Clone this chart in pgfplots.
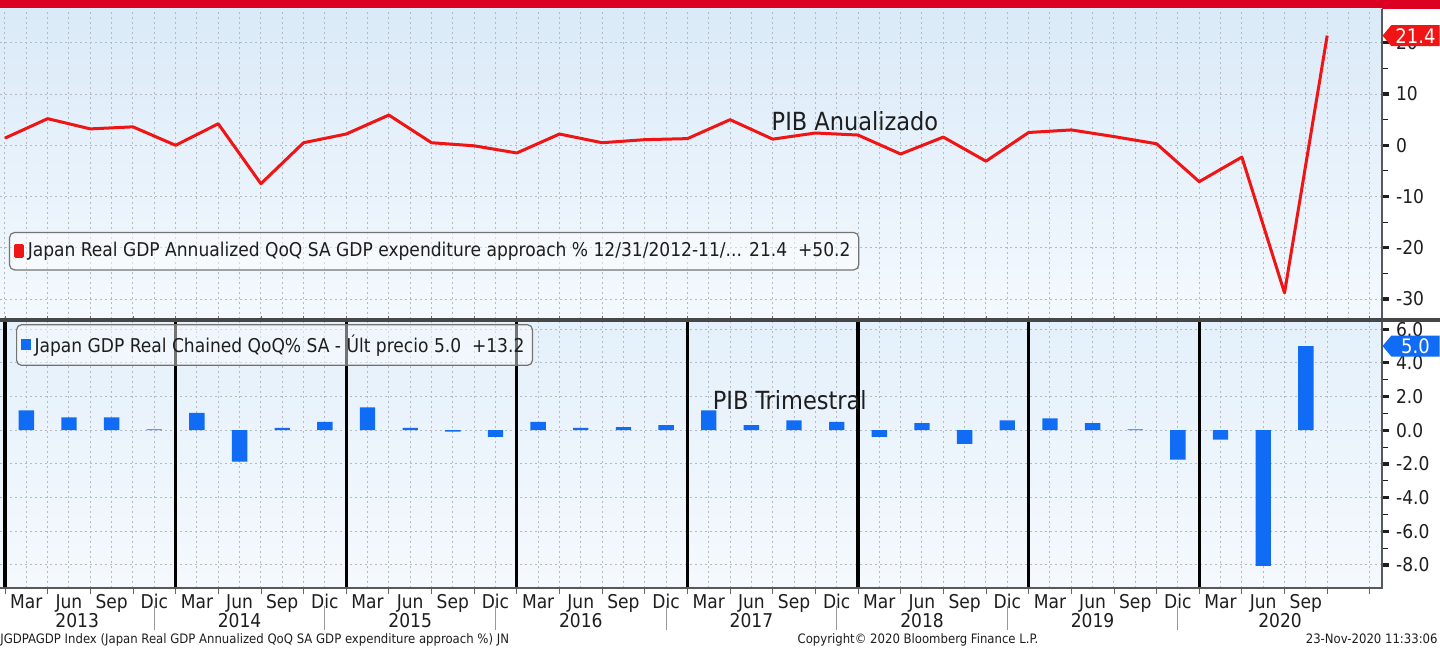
\documentclass[border=0pt]{standalone}
\usepackage{pgfplots}
\pgfplotsset{compat=1.18}
\usepackage{pgfplotstable}
\usepackage{fontspec}
\setmainfont{DejaVu Sans Condensed}
\usetikzlibrary{shapes.symbols}

\definecolor{bbred}{RGB}{240,20,20}
\definecolor{topred}{RGB}{220,0,35}
\definecolor{bbblue}{RGB}{16,108,245}
\definecolor{gridgray}{RGB}{180,186,194}
\definecolor{txt}{RGB}{30,30,30}

\pgfplotstableread{
t v
0 1.4
1 5.2
2 3.2
3 3.6
4 0.0
5 4.2
6 -7.5
7 0.5
8 2.2
9 5.9
10 0.5
11 -0.1
12 -1.5
13 2.2
14 0.5
15 1.1
16 1.3
17 5.0
18 1.2
19 2.4
20 2.0
21 -1.7
22 1.6
23 -3.1
24 2.5
25 3.0
26 1.7
27 0.3
28 -7.1
29 -2.3
30 -28.8
31 21.4
}\linedata

\pgfplotstableread{
t v
0.5 1.18
1.5 0.77
2.5 0.77
3.5 0.05
4.5 1.03
5.5 -1.87
6.5 0.14
7.5 0.49
8.5 1.36
9.5 0.14
10.5 -0.08
11.5 -0.39
12.5 0.49
13.5 0.14
14.5 0.18
15.5 0.30
16.5 1.18
17.5 0.30
18.5 0.59
19.5 0.49
20.5 -0.39
21.5 0.43
22.5 -0.81
23.5 0.59
24.5 0.71
25.5 0.43
26.5 0.05
27.5 -1.74
28.5 -0.55
29.5 -8.05
30.5 5.0
}\bardata

\newcommand{\tkfont}{\fontsize{9.5}{11}\selectfont}

\begin{document}
\begin{tikzpicture}
\useasboundingbox (0pt,0pt) rectangle (720pt,324pt);
\fill[white] (0pt,0pt) rectangle (720pt,324pt);
\fill[topred] (0pt,319.5pt) rectangle (720pt,324pt);

% ---------------- top panel ----------------
\begin{axis}[
  at={(0pt,164.5pt)}, anchor=south west,
  scale only axis, width=691pt, height=155pt,
  xmin=-0.1172, xmax=32.286, ymin=-33.9, ymax=26.6,
  axis background/.style={top color={rgb,255:red,218;green,234;blue,248}, bottom color={rgb,255:red,244;green,249;blue,254}},
  axis line style={draw=none},
  xtick={0,0.5,...,32}, xticklabels={}, xtick style={draw=none},
  xmajorgrids, ymajorgrids,
  grid style={gridgray, dash pattern=on 1pt off 1.5pt, line width=0.5pt},
  ytick={-30,-20,...,20}, minor y tick num=1,
  ytick pos=right, yticklabel pos=right, tick align=outside,
  major tick length=3.5pt, minor tick length=3pt,
  ytick style={txt, line width=0.5pt},
  major y tick style={line width=1.6pt},
  yticklabel style={font=\tkfont, text=txt},
  /pgf/number format/assume math mode=true,
  legend cell align=left,
  legend style={at={(0.0065,0.281)}, anchor=north west, draw=black!55, line width=0.6pt,
    rounded corners=2.5pt, fill=white, fill opacity=0.45, text opacity=1, draw opacity=1,
    inner xsep=2pt, inner ysep=3pt, font=\tkfont, text=txt},
]
\addplot[bbred, line width=1.5pt, line join=round,
  legend image code/.code={\fill[bbred, fill opacity=1, sharp corners] (0pt,-2.6pt) rectangle (3.6pt,3pt);}]
  table[x=t, y=v] {\linedata};
\addlegendentry{Japan Real GDP Annualized QoQ SA GDP expenditure approach \% 12/31/2012-11/... 21.4\ \ +50.2}
\node[font=\fontsize{12.5}{14}\selectfont, text=txt] at (axis cs:19.93,4.7) {PIB Anualizado};
\coordinate (tagA) at (axis cs:32.286,21.4);
\end{axis}

% ---------------- bottom panel ----------------
\begin{axis}[
  at={(0pt,30pt)}, anchor=south west,
  scale only axis, width=691pt, height=133pt,
  xmin=-0.1172, xmax=32.286, ymin=-9.37, ymax=6.43,
  axis background/.style={top color={rgb,255:red,228;green,240;blue,251}, bottom color={rgb,255:red,245;green,249;blue,253}},
  axis line style={draw=none},
  xtick={0.5,1.5,...,30.5},
  xticklabels={Mar,Jun,Sep,Dic,Mar,Jun,Sep,Dic,Mar,Jun,Sep,Dic,Mar,Jun,Sep,Dic,Mar,Jun,Sep,Dic,Mar,Jun,Sep,Dic,Mar,Jun,Sep,Dic,Mar,Jun,Sep},
  minor xtick={0,1,...,32},
  xmajorgrids, xminorgrids, ymajorgrids,
  grid style={gridgray, dash pattern=on 1pt off 1.5pt, line width=0.5pt},
  major x tick style={draw=none}, minor x tick style={black!60, line width=0.4pt},
  xticklabel style={font=\tkfont, text=txt, anchor=base, yshift=-6.5pt},
  extra x ticks={0,4,...,28}, extra x tick labels={},
  extra x tick style={major grid style={black, line width=1.6pt, solid}, major x tick style={draw=none}},
  ytick={-8,-6,...,6}, minor y tick num=1,
  ytick pos=right, yticklabel pos=right, tick align=outside,
  major tick length=3.5pt, minor tick length=3pt,
  ytick style={txt, line width=0.5pt},
  major y tick style={line width=1.6pt},
  yticklabel style={font=\tkfont, text=txt, /pgf/number format/.cd, fixed, fixed zerofill, precision=1},
  /pgf/number format/assume math mode=true,
  legend cell align=left,
  legend style={at={(0.0116,0.992)}, anchor=north west, draw=black!55, line width=0.6pt,
    rounded corners=2.5pt, fill=white, fill opacity=0.45, text opacity=1, draw opacity=1,
    inner xsep=2pt, inner ysep=3pt, font=\tkfont, text=txt},
]
\addplot[ybar, bar width=0.36, fill=bbblue, draw=none,
  legend image code/.code={\fill[bbblue, fill opacity=1, sharp corners] (0pt,-2.6pt) rectangle (5pt,3pt);}]
  table[x=t, y=v] {\bardata};
\addlegendentry{Japan GDP Real Chained QoQ\% SA - Últ precio 5.0\ \ +13.2}
\node[font=\fontsize{12.5}{14}\selectfont, text=txt] at (axis cs:18.4,1.8) {PIB Trimestral};
\coordinate (tagB) at (axis cs:32.286,5.0);
\end{axis}

% frame lines and separator
\draw[black!65, line width=0.6pt] (0pt,30pt) -- (691pt,30pt) -- (691pt,319.5pt);
\fill[black!72] (0pt,162.8pt) rectangle (720pt,165pt);

% value tags
\node[signal, signal to=west, signal pointer angle=100, fill=bbred, text=white, anchor=west,
  inner xsep=2pt, inner ysep=1pt, minimum height=10.5pt, minimum width=28.5pt,
  font=\fontsize{10}{11}\selectfont] at (tagA) {21.4};
\node[signal, signal to=west, signal pointer angle=100, fill=bbblue, text=white, anchor=west,
  inner xsep=2pt, inner ysep=1pt, minimum height=10.5pt, minimum width=28.5pt,
  font=\fontsize{10}{11}\selectfont] at (tagB) {5.0};

% year labels and dividers
\foreach \xx in {77.14,162.44,247.74,333.04,418.34,503.64,588.94}
  \draw[black!40, line width=0.5pt] (\xx pt,21pt) -- (\xx pt,9pt);
\foreach \xx/\yy in {38.6/2013,119.8/2014,205.1/2015,290.4/2016,375.7/2017,461.0/2018,546.3/2019,640.0/2020}
  \node[font=\tkfont, text=txt, anchor=base] at (\xx pt,10.5pt) {\yy};

% footer
\node[font=\fontsize{6.5}{7}\selectfont, text=txt, anchor=base west, inner sep=0pt] at (0pt,2.2pt) {JGDPAGDP Index (Japan Real GDP Annualized QoQ SA GDP expenditure approach \%) JN};
\node[font=\fontsize{6.5}{7}\selectfont, text=txt, anchor=base, inner sep=0pt] at (459pt,2.2pt) {Copyright© 2020 Bloomberg Finance L.P.};
\node[font=\fontsize{6.5}{7}\selectfont, text=txt, anchor=base east, inner sep=0pt] at (719pt,2.2pt) {23-Nov-2020 11:33:06};
\end{tikzpicture}
\end{document}
